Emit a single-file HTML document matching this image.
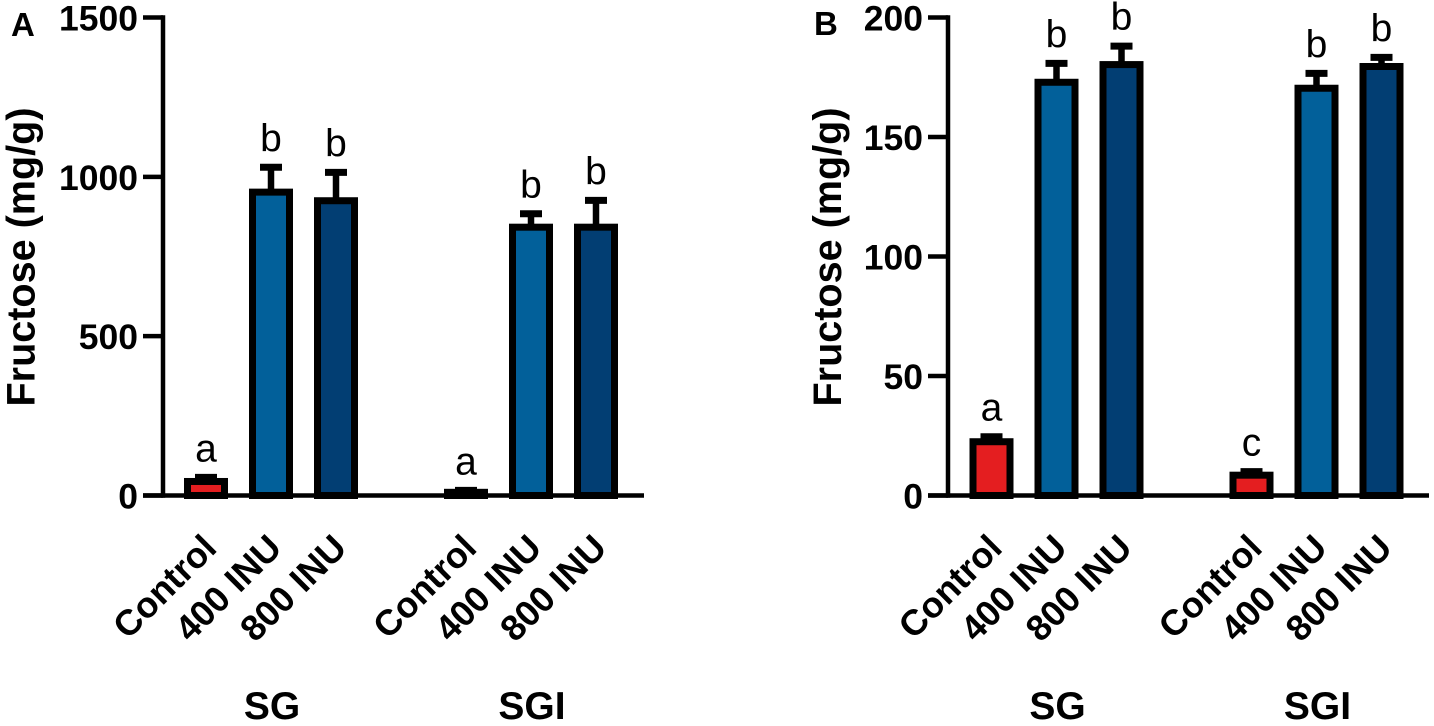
<!DOCTYPE html>
<html>
<head>
<meta charset="utf-8">
<title>Fructose bar charts</title>
<style>
html,body{margin:0;padding:0;background:#fff;width:1434px;height:726px;overflow:hidden}
svg{display:block}
text{font-family:"Liberation Sans",sans-serif;fill:#000}
.b{font-weight:700}
</style>
</head>
<body>
<svg id="chart" width="1434" height="726" viewBox="0 0 1434 726" xmlns="http://www.w3.org/2000/svg">
  <text class="b" x="11" y="36" font-size="33">A</text>
  <text class="b" x="814" y="35" font-size="33">B</text>
  <text class="b" transform="translate(34.5 257) rotate(-90)" text-anchor="middle" font-size="39.6">Fructose (mg/g)</text>
  <text class="b" transform="translate(841 257) rotate(-90)" text-anchor="middle" font-size="39.6">Fructose (mg/g)</text>
</svg>
<script>
var categories = ["Control", "400 INU", "800 INU", "Control", "400 INU", "800 INU"];
var groupOf = [0, 0, 0, 1, 1, 1];
var groupLabels = ["SG", "SGI"];
var panelAValues = [44, 952, 925, 10, 842, 842];
var panelAErrors = [57, 1030, 1014, 16, 884, 926];
var panelALetters = ["a", "b", "b", "a", "b", "b"];
var panelATicks = [0, 500, 1000, 1500];
var panelBValues = [22.5, 172.9, 180.3, 8.5, 170.4, 179.5];
var panelBErrors = [24.6, 180.8, 188, 10, 176.6, 183.3];
var panelBLetters = ["a", "b", "b", "c", "b", "b"];
var panelBTicks = [0, 50, 100, 150, 200];
var fills = ["#e41e20", "#02609a", "#023e73", "#e41e20", "#02609a", "#023e73"];

var NS = "http://www.w3.org/2000/svg";
var svg = document.getElementById("chart");

function make(tag, attrs, parent) {
  var el = document.createElementNS(NS, tag);
  for (var k in attrs) el.setAttribute(k, attrs[k]);
  parent.appendChild(el);
  return el;
}

function drawPanel(p, values, errors, letters, ticks) {
  var maxTick = ticks[ticks.length - 1];
  var y = function (v) { return p.y0 - (v / maxTick) * (p.y0 - p.yTop); };
  var x = function (i) { return p.x0 + 65 * (i + groupOf[i]); };

  var root = make("g", {}, svg);
  
  

  // bars, error bars, letters
  values.forEach(function (v, i) {
    var c = x(i);
    var stem = make("line", { x1: c, x2: c, y1: y(errors[i]), y2: y(v), stroke: "#000", "stroke-width": 6.5 }, root);
    
    
    var cap = make("line", { x1: c - 11, x2: c + 11, y1: y(errors[i]), y2: y(errors[i]), stroke: "#000", "stroke-width": 7 }, root);
    
    
    var bar = make("rect", { x: c - 18.5, y: y(v), width: 37, height: Math.max(0, p.y0 - y(v)), fill: fills[i], stroke: "#000", "stroke-width": 7 }, root);
    
    
    var letter = make("text", { x: c, y: y(errors[i]) - 16, "text-anchor": "middle", "font-size": 39 }, root);
    letter.textContent = letters[i];
    
    
    var cat = make("text", { "class": "b", transform: "translate(" + (c + 12.5) + " 550) rotate(-45)", "text-anchor": "end", "font-size": 36 }, root);
    cat.textContent = categories[i];
    
    
  });

  // axes
  var yAxis = make("line", { x1: p.axisX, x2: p.axisX, y1: p.yTop - 2.25, y2: p.y0 + 2.25, stroke: "#000", "stroke-width": 4.5 }, root);
  
  
  var xAxis = make("line", { x1: p.axisX - 20, x2: p.axisEnd, y1: p.y0, y2: p.y0, stroke: "#000", "stroke-width": 4.5 }, root);
  
  

  ticks.forEach(function (t) {
    var tick = make("line", { x1: p.axisX - 20, x2: p.axisX, y1: y(t), y2: y(t), stroke: "#000", "stroke-width": 4.5 }, root);
    
    
    var label = make("text", { "class": "b", x: p.axisX - 25, y: y(t) + 13, "text-anchor": "end", "font-size": 35.5 }, root);
    label.textContent = t;
    
    
  });

  groupLabels.forEach(function (g, gi) {
    var members = [];
    groupOf.forEach(function (o, i) { if (o === gi) members.push(x(i)); });
    var mid = members.reduce(function (a, b) { return a + b; }, 0) / members.length;
    var label = make("text", { "class": "b", x: mid + 1, y: 719, "text-anchor": "middle", "font-size": 39 }, root);
    label.textContent = g;
    
    
  });
}

drawPanel({ name: "panel-a-chart", x0: 206, axisX: 163, axisEnd: 644, y0: 495.5, yTop: 17.5 },
  panelAValues, panelAErrors, panelALetters, panelATicks);
drawPanel({ name: "panel-b-chart", x0: 991.5, axisX: 948, axisEnd: 1429, y0: 495.5, yTop: 17.5 },
  panelBValues, panelBErrors, panelBLetters, panelBTicks);
</script>
</body>
</html>
